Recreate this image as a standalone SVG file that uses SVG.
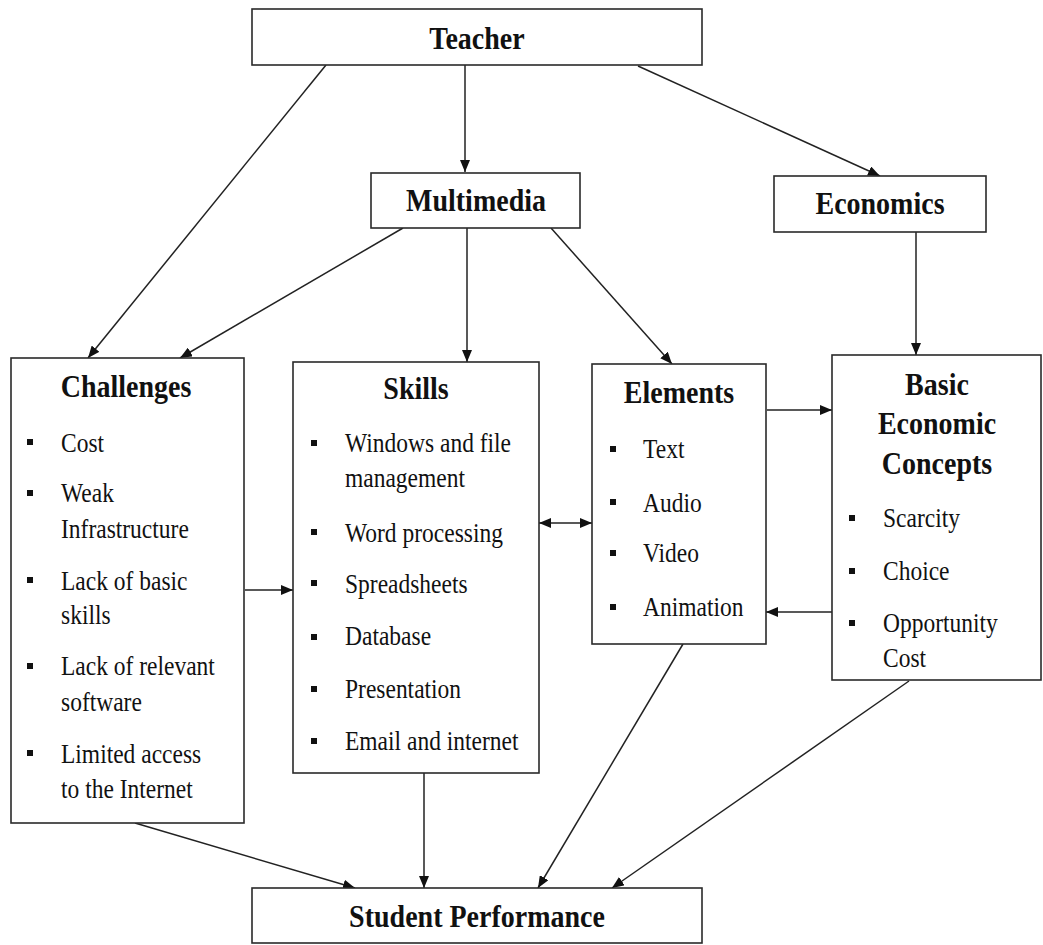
<svg xmlns="http://www.w3.org/2000/svg" width="1043" height="945" viewBox="0 0 1043 945">
<defs>
<style>
.box{fill:#fff;stroke:#2a2a2a;stroke-width:1.6}
.h{font-family:"Liberation Serif","Times New Roman",serif;font-weight:bold;font-size:28px;fill:#111;text-anchor:middle}
.i{font-family:"Liberation Serif","Times New Roman",serif;font-size:23.5px;fill:#111}
.b{fill:#111}
.c line{stroke:#222;stroke-width:1.5;marker-end:url(#ah)}
</style>
<marker id="ah" markerUnits="userSpaceOnUse" markerWidth="12" markerHeight="10" viewBox="0 0 12 10" refX="12" refY="5" orient="auto-start-reverse">
<path d="M0,0 L12,5 L0,10 z" fill="#111"/>
</marker>
</defs>
<rect width="1043" height="945" fill="#fff"/>

<g id="connectors" class="c">
<line x1="326" y1="65" x2="88" y2="358"/>
<line x1="465" y1="65" x2="465" y2="172"/>
<line x1="638" y1="66" x2="880" y2="176"/>
<line x1="403" y1="228" x2="180" y2="358"/>
<line x1="467" y1="228" x2="467" y2="362"/>
<line x1="551" y1="228" x2="672" y2="364"/>
<line x1="916" y1="232" x2="916" y2="355"/>
<line x1="245" y1="590" x2="293" y2="590"/>
<line x1="539" y1="523" x2="592" y2="523" style="marker-start:url(#ah)"/>
<line x1="767" y1="410" x2="832" y2="410"/>
<line x1="832" y1="612" x2="766" y2="612"/>
<line x1="135" y1="823" x2="355" y2="888"/>
<line x1="424" y1="773" x2="424" y2="888"/>
<line x1="683" y1="644" x2="538" y2="888"/>
<line x1="909" y1="681" x2="612" y2="888"/>
</g>

<g id="teacher">
<rect class="box" x="252" y="9" width="450" height="56"/>
<text class="h" transform="translate(477,49) scale(1,1.12)">Teacher</text>
</g>

<g id="multimedia">
<rect class="box" x="371" y="173" width="209" height="55"/>
<text class="h" transform="translate(476,211) scale(1,1.12)">Multimedia</text>
</g>

<g id="economics">
<rect class="box" x="774" y="176" width="212" height="56"/>
<text class="h" transform="translate(880,214) scale(1,1.12)">Economics</text>
</g>

<g id="challenges">
<rect class="box" x="11" y="358" width="233" height="465"/>
<text class="h" transform="translate(126,397) scale(1,1.12)">Challenges</text>
<rect class="b" x="27" y="439" width="6" height="6"/>
<rect class="b" x="27" y="490" width="6" height="6"/>
<rect class="b" x="27" y="577" width="6" height="6"/>
<rect class="b" x="27" y="663" width="6" height="6"/>
<rect class="b" x="27" y="750" width="6" height="6"/>
<text class="i" transform="translate(61,452) scale(1,1.12)">Cost</text>
<text class="i" transform="translate(61,502) scale(1,1.12)">Weak</text>
<text class="i" transform="translate(61,538) scale(1,1.12)">Infrastructure</text>
<text class="i" transform="translate(61,590) scale(1,1.12)">Lack of basic</text>
<text class="i" transform="translate(61,624) scale(1,1.12)">skills</text>
<text class="i" transform="translate(61,675) scale(1,1.12)">Lack of relevant</text>
<text class="i" transform="translate(61,711) scale(1,1.12)">software</text>
<text class="i" transform="translate(61,763) scale(1,1.12)">Limited access</text>
<text class="i" transform="translate(61,798) scale(1,1.12)">to the Internet</text>
</g>

<g id="skills">
<rect class="box" x="293" y="362" width="246" height="411"/>
<text class="h" transform="translate(416,399) scale(1,1.12)">Skills</text>
<rect class="b" x="311" y="440" width="6" height="6"/>
<rect class="b" x="311" y="529" width="6" height="6"/>
<rect class="b" x="311" y="580" width="6" height="6"/>
<rect class="b" x="311" y="634" width="6" height="6"/>
<rect class="b" x="311" y="686" width="6" height="6"/>
<rect class="b" x="311" y="738" width="6" height="6"/>
<text class="i" transform="translate(345,452) scale(1,1.12)">Windows and file</text>
<text class="i" transform="translate(345,487) scale(1,1.12)">management</text>
<text class="i" transform="translate(345,542) scale(1,1.12)">Word processing</text>
<text class="i" transform="translate(345,593) scale(1,1.12)">Spreadsheets</text>
<text class="i" transform="translate(345,645) scale(1,1.12)">Database</text>
<text class="i" transform="translate(345,698) scale(1,1.12)">Presentation</text>
<text class="i" transform="translate(345,750) scale(1,1.12)">Email and internet</text>
</g>

<g id="elements">
<rect class="box" x="592" y="364" width="174" height="280"/>
<text class="h" transform="translate(679,403) scale(1,1.12)">Elements</text>
<rect class="b" x="610" y="446" width="6" height="6"/>
<rect class="b" x="610" y="499" width="6" height="6"/>
<rect class="b" x="610" y="550" width="6" height="6"/>
<rect class="b" x="610" y="604" width="6" height="6"/>
<text class="i" transform="translate(643,458) scale(1,1.12)">Text</text>
<text class="i" transform="translate(643,512) scale(1,1.12)">Audio</text>
<text class="i" transform="translate(643,562) scale(1,1.12)">Video</text>
<text class="i" transform="translate(643,616) scale(1,1.12)">Animation</text>
</g>

<g id="basic-economic-concepts">
<rect class="box" x="832" y="355" width="209" height="325"/>
<text class="h" transform="translate(937,395) scale(1,1.12)">Basic</text>
<text class="h" transform="translate(937,434) scale(1,1.12)">Economic</text>
<text class="h" transform="translate(937,474) scale(1,1.12)">Concepts</text>
<rect class="b" x="849" y="515" width="6" height="6"/>
<rect class="b" x="849" y="568" width="6" height="6"/>
<rect class="b" x="849" y="620" width="6" height="6"/>
<text class="i" transform="translate(883,527) scale(1,1.12)">Scarcity</text>
<text class="i" transform="translate(883,580) scale(1,1.12)">Choice</text>
<text class="i" transform="translate(883,632) scale(1,1.12)">Opportunity</text>
<text class="i" transform="translate(883,667) scale(1,1.12)">Cost</text>
</g>

<g id="student-performance">
<rect class="box" x="252" y="888" width="450" height="55"/>
<text class="h" transform="translate(477,927) scale(1,1.12)">Student Performance</text>
</g>
</svg>
